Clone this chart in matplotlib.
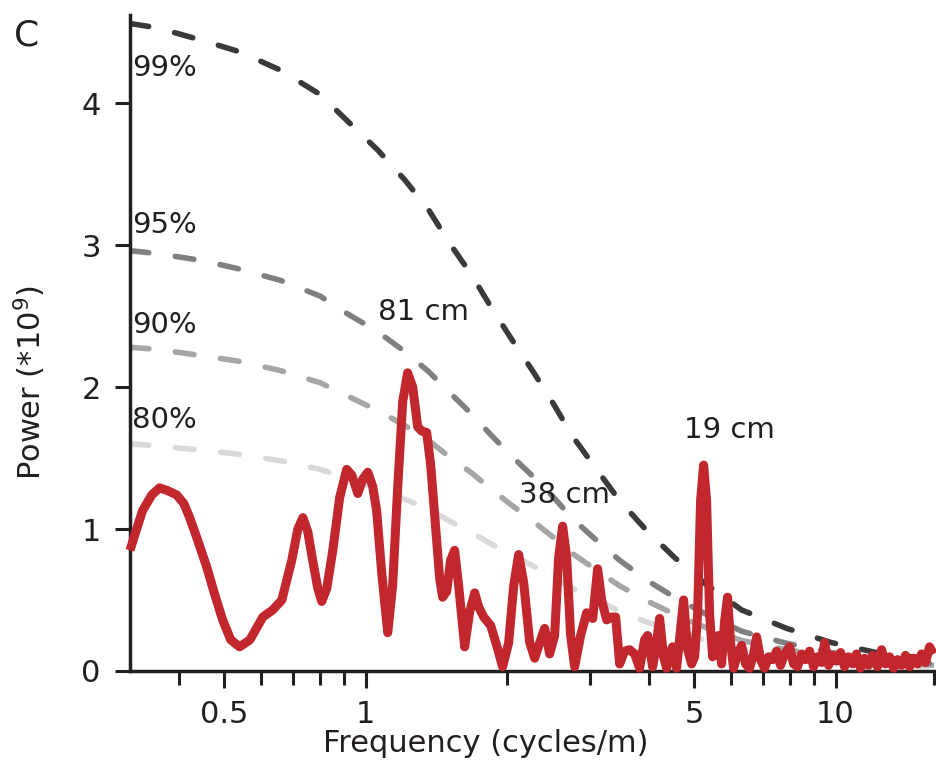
import matplotlib.pyplot as plt

# spectrum
freq = [0.315, 0.324, 0.335, 0.3505, 0.364, 0.379, 0.396, 0.410, 0.422, 0.439,
        0.459, 0.477, 0.496, 0.516, 0.539, 0.567, 0.604, 0.634, 0.663, 0.696,
        0.717, 0.735, 0.753, 0.771, 0.791, 0.806, 0.826, 0.851, 0.880, 0.911,
        0.934, 0.962, 0.985, 1.010, 1.035, 1.055, 1.081, 1.114, 1.141, 1.170,
        1.199, 1.228, 1.259, 1.290, 1.316, 1.348, 1.375, 1.402, 1.437, 1.458,
        1.487, 1.516, 1.546, 1.577, 1.624, 1.665, 1.706, 1.740, 1.783, 1.845,
        1.900, 1.956, 2.015, 2.065, 2.116, 2.169, 2.234, 2.289, 2.357, 2.404,
        2.463, 2.524, 2.574, 2.625, 2.677, 2.730, 2.784, 2.867, 2.953, 3.041,
        3.116, 3.178, 3.257, 3.338, 3.404, 3.471, 3.557, 3.645, 3.736, 3.828,
        3.923, 3.981, 4.080, 4.140, 4.222, 4.305, 4.369, 4.434, 4.500, 4.589,
        4.680, 4.749, 4.843, 4.939, 5.012, 5.086, 5.161, 5.238, 5.315, 5.394,
        5.474, 5.555, 5.637, 5.720, 5.805, 5.890, 5.978, 6.067, 6.187, 6.310,
        6.435, 6.561, 6.692, 6.791, 6.925, 7.062, 7.202, 7.345, 7.490, 7.638,
        7.790, 7.982, 8.140, 8.301, 8.466, 8.634, 8.805, 8.979, 9.157, 9.338,
        9.476, 9.663, 9.854, 10.05, 10.25, 10.45, 10.66, 10.87, 11.08, 11.30,
        11.53, 11.75, 11.99, 12.28, 12.53, 12.78, 13.03, 13.29, 13.55, 13.82,
        14.09, 14.37, 14.66, 14.95, 15.24, 15.54, 15.85, 16.16]
power = [0.85, 0.98, 1.13, 1.24, 1.29, 1.27, 1.24, 1.18, 1.08, 0.92,
         0.73, 0.54, 0.36, 0.22, 0.17, 0.22, 0.38, 0.43, 0.50, 0.78,
         1.00, 1.08, 0.98, 0.78, 0.58, 0.49, 0.58, 0.85, 1.22, 1.42,
         1.38, 1.25, 1.35, 1.40, 1.30, 1.13, 0.70, 0.27, 0.60, 1.30,
         1.90, 2.10, 2.00, 1.72, 1.69, 1.68, 1.45, 1.10, 0.65, 0.52,
         0.56, 0.78, 0.85, 0.60, 0.17, 0.42, 0.55, 0.45, 0.38, 0.32,
         0.18, 0.03, 0.20, 0.60, 0.82, 0.62, 0.20, 0.09, 0.22, 0.30,
         0.12, 0.25, 0.80, 1.02, 0.80, 0.25, 0.03, 0.25, 0.41, 0.37,
         0.72, 0.50, 0.36, 0.38, 0.38, 0.05, 0.14, 0.15, 0.12, 0.02,
         0.22, 0.25, 0.03, 0.15, 0.37, 0.10, 0.02, 0.12, 0.17, 0.02,
         0.30, 0.50, 0.15, 0.05, 0.10, 0.40, 1.20, 1.45, 1.20, 0.40,
         0.10, 0.22, 0.25, 0.05, 0.35, 0.52, 0.20, 0.02, 0.12, 0.18,
         0.05, 0.02, 0.12, 0.24, 0.08, 0.02, 0.10, 0.08, 0.14, 0.04,
         0.12, 0.17, 0.05, 0.03, 0.12, 0.08, 0.14, 0.03, 0.10, 0.06,
         0.20, 0.04, 0.11, 0.07, 0.13, 0.03, 0.10, 0.05, 0.12, 0.02,
         0.09, 0.04, 0.11, 0.03, 0.15, 0.05, 0.10, 0.02, 0.08, 0.04,
         0.11, 0.03, 0.09, 0.05, 0.12, 0.06, 0.17, 0.12]

# confidence levels
ci_freq = [0.315, 0.36, 0.45, 0.54, 0.66, 0.80, 0.91, 1.06, 1.21, 1.36,
           1.51, 1.68, 1.85, 2.05, 2.27, 2.50, 2.76, 3.10, 3.47, 3.96,
           4.54, 5.30, 6.31, 7.87, 9.80, 12.2, 16.2]
ci99 = [4.56, 4.53, 4.44, 4.36, 4.23, 4.06, 3.88, 3.67, 3.46, 3.25,
        3.01, 2.79, 2.56, 2.33, 2.11, 1.89, 1.65, 1.42, 1.20, 0.99,
        0.80, 0.61, 0.43, 0.30, 0.20, 0.13, 0.08]
ci95 = [2.96, 2.94, 2.89, 2.83, 2.75, 2.64, 2.52, 2.39, 2.25, 2.11,
        1.96, 1.81, 1.66, 1.51, 1.37, 1.23, 1.07, 0.92, 0.78, 0.64,
        0.52, 0.40, 0.28, 0.195, 0.13, 0.085, 0.05]
ci90 = [2.28, 2.265, 2.22, 2.18, 2.115, 2.03, 1.94, 1.835, 1.73, 1.625,
        1.505, 1.395, 1.28, 1.165, 1.055, 0.945, 0.825, 0.71, 0.60, 0.495,
        0.40, 0.305, 0.215, 0.15, 0.10, 0.065, 0.04]
ci80 = [1.60, 1.585, 1.555, 1.525, 1.48, 1.42, 1.36, 1.285, 1.21, 1.14,
        1.055, 0.975, 0.895, 0.815, 0.74, 0.66, 0.58, 0.50, 0.42, 0.345,
        0.28, 0.215, 0.15, 0.105, 0.07, 0.045, 0.03]
ci_labels = ['99%', '95%', '90%', '80%']
ci_colors = ['#3a3a3a', '#808080', '#a6a6a6', '#d9d9d9']

ink = '#231f20'
plt.rcParams['font.family'] = ['DejaVu Sans']

fig = plt.figure(figsize=(9.36, 7.67), dpi=100)
ax = fig.add_axes([130 / 936, 96 / 767, 804 / 936, 656 / 767])

for ci, col in zip([ci80, ci90, ci95, ci99], ci_colors[::-1]):
    ax.plot(ci_freq, ci, color=col, lw=4, dashes=(3.4, 4.8),
            dash_capstyle='round', zorder=2)

ax.plot(freq, power, color='#c1272d', lw=6.5, solid_joinstyle='round',
        solid_capstyle='butt', zorder=3, clip_on=False)

# label positions for the confidence levels
for lab, y in zip(ci_labels, [4.25, 3.14, 2.44, 1.77]):
    ax.text(0.318, y, lab, fontsize=21, color=ink, ha='left', va='center')

for lab, x, y in [('81 cm', 1.33, 2.53), ('38 cm', 2.65, 1.24), ('19 cm', 5.95, 1.70)]:
    ax.text(x, y, lab, fontsize=21, color=ink, ha='center', va='center', zorder=4)

ax.set_xscale('log')
ax.set_xlim(0.315, 16.2)
ax.set_ylim(0, 4.62)
ax.set_xticks([0.5, 1, 5, 10])
ax.set_xticklabels(['0.5', '1', '5', '10'])
ax.set_xticks([0.4, 0.6, 0.7, 0.8, 0.9, 2, 3, 4, 6, 7, 8, 9, 16.2], minor=True)
ax.set_xticklabels([], minor=True)
ax.set_yticks([0, 1, 2, 3, 4])

for s in ['top', 'right']:
    ax.spines[s].set_visible(False)
for s in ['left', 'bottom']:
    ax.spines[s].set_linewidth(2.5)
    ax.spines[s].set_color(ink)

ax.tick_params(axis='x', which='major', length=12, width=2.2, pad=9,
               labelsize=22, colors=ink)
ax.tick_params(axis='x', which='minor', length=10, width=2.2, colors=ink)
ax.tick_params(axis='y', length=11, width=2.2, pad=10, labelsize=22, colors=ink)

ax.set_xlabel('Frequency (cycles/m)', fontsize=22, color=ink)
ax.xaxis.set_label_coords(0.443, -0.088)
ax.set_ylabel(r'Power (*10$^9$)', fontsize=22, color=ink)
ax.yaxis.set_label_coords(-0.102, 0.439)

fig.text(27 / 936, 1 - 35 / 767, 'C', fontsize=26, color=ink, ha='center', va='center')

fig.savefig('out.png', dpi=100)
